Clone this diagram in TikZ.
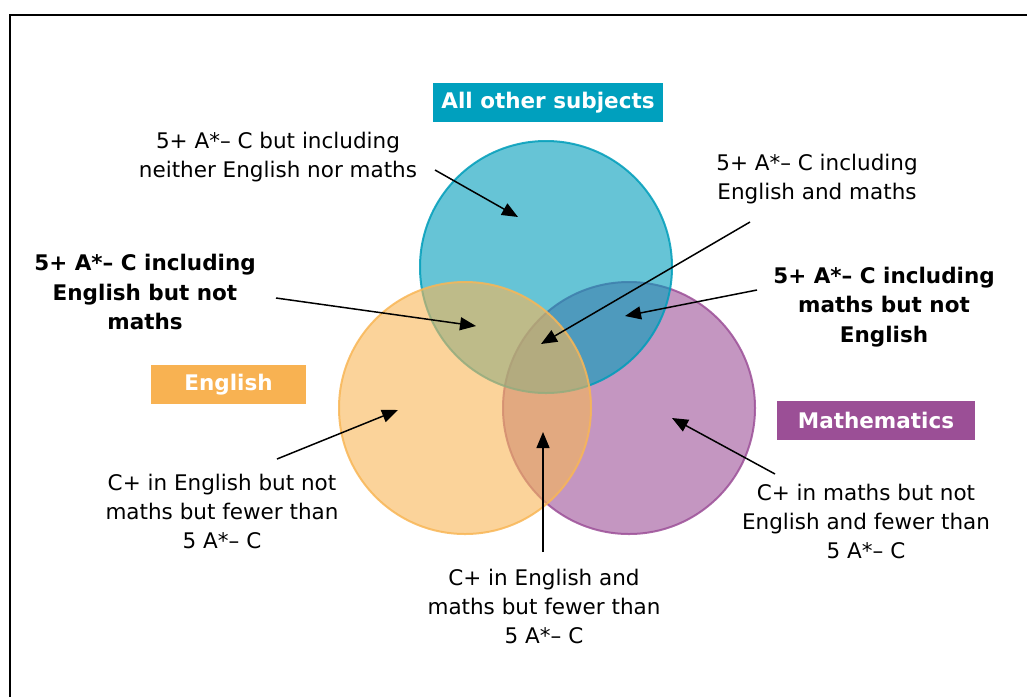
\documentclass[tikz,border=0pt]{standalone}
\usepackage{fontspec}
\setmainfont{DejaVu Sans}
\usetikzlibrary{arrows.meta}
\definecolor{cyanc}{RGB}{0,157,186}
\definecolor{orangec}{RGB}{248,182,86}
\definecolor{purplec}{RGB}{156,80,152}
\definecolor{cyanbox}{RGB}{0,160,190}
\definecolor{orangebox}{RGB}{248,178,82}
\definecolor{purplebox}{RGB}{155,79,150}
\begin{document}
\begin{tikzpicture}[x=1pt,y=-1pt,
  lbl/.style={align=center, inner sep=0pt, font=\fontsize{21.5}{29}\selectfont},
  blbl/.style={align=center, inner sep=0pt, font=\fontsize{21.5}{29.5}\selectfont\bfseries},
  tag/.style={text=white, font=\fontsize{21.5}{26}\selectfont\bfseries, inner sep=0pt, minimum height=39pt},
  arr/.style={-{Triangle[length=16pt,width=13pt]}, line width=1.5pt},
  venn/.style={fill opacity=0.6, draw opacity=0.85, line width=2pt}]
\useasboundingbox (0,0) rectangle (1027,697);
\draw[line width=2.6pt] (10,697) -- (10,15) -- (1027,15);
% circles
\path[venn, fill=purplec, draw=purplec] (629,408) circle[radius=126pt];
\path[venn, fill=cyanc, draw=cyanc] (546,267) circle[radius=126pt];
\path[venn, fill=orangec, draw=orangec] (465,408) circle[radius=126pt];
% tags
\node[tag, fill=cyanbox, minimum width=230pt] (toth) at (548,102.5) {All other subjects};
\node[tag, fill=orangebox, minimum width=155pt] (teng) at (228.5,384.5) {English};
\node[tag, fill=purplebox, minimum width=198pt] (tmat) at (876,420) {Mathematics};
% labels
\node[lbl] (l1) at (278,157) {5+ A*– C but including\\neither English nor maths};
\node[lbl] (l2) at (817,179) {5+ A*– C including\\English and maths};
\node[blbl] (l3) at (145,292) {5+ A*– C including\\English but not\\maths};
\node[blbl] (l4) at (884,307) {5+ A*– C including\\maths but not\\English};
\node[lbl] (l5) at (222,511) {C+ in English but not\\maths but fewer than\\5 A*– C};
\node[lbl] (l6) at (544,606) {C+ in English and\\maths but fewer than\\5 A*– C};
\node[lbl] (l7) at (866,521) {C+ in maths but not\\English and fewer than\\5 A*– C};
% arrow ends
\coordinate (a1) at (435,170); \coordinate (b1) at (518,217);
\coordinate (a2) at (750,222); \coordinate (b2) at (541,344);
\coordinate (a3) at (276,298); \coordinate (b3) at (476,326);
\coordinate (a4) at (757,290); \coordinate (b4) at (625,316);
\coordinate (a5) at (277,459); \coordinate (b5) at (398,410);
\coordinate (a6) at (543,552); \coordinate (b6) at (543,432);
\coordinate (a7) at (775,474); \coordinate (b7) at (672,418);
\draw[arr] (a1) -- (b1);
\draw[arr] (a2) -- (b2);
\draw[arr] (a3) -- (b3);
\draw[arr] (a4) -- (b4);
\draw[arr] (a5) -- (b5);
\draw[arr] (a6) -- (b6);
\draw[arr] (a7) -- (b7);
\end{tikzpicture}
\end{document}
